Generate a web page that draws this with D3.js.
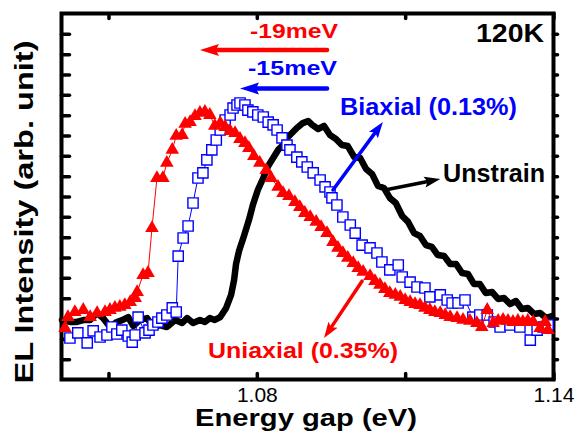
<!DOCTYPE html>
<html><head><meta charset="utf-8">
<script src="https://cdn.jsdelivr.net/npm/d3@7"></script>
<style>html,body{margin:0;padding:0;background:#fff}</style>
</head><body>
<script>
// ---- data ----
const xTickValues = [1.05, 1.08, 1.11, 1.14];
const xTickLabels = ["", "1.08", "", "1.14"];
const yTickValues = [1,2,3,4,5,6,7,8,9,10,11,12,13,14,15,16,17];

const unstrainE = [1.0406,1.0422,1.0436,1.0451,1.0463,1.0477,1.0489,1.0503,1.0517,1.0529,1.0540,1.0550,1.0564,1.0578,1.0590,1.0604,1.0618,1.0635,1.0649,1.0659,1.0671,1.0685,1.0695,1.0705,1.0715,1.0726,
1.0738,1.0748,1.0754,1.0758,1.0764,1.0774,1.0784,1.0792,1.0802,1.0813,1.0823,1.0833,1.0843,1.0853,1.0861,1.0871,1.0881,1.0893,1.0904,
1.0912,1.0924,1.0936,1.0948,1.0960,1.0972,1.0984,1.0997,1.1009,1.1021,1.1033,1.1045,1.1057,1.1069,1.1081,1.1094,1.1106,1.1118,1.1130,1.1142,1.1154,1.1166,1.1179,1.1191,1.1203,1.1215,1.1227,1.1239,1.1251,1.1263,1.1276,1.1288,1.1300,1.1312,1.1324,1.1336,1.1348,1.1361,1.1373,1.1385,1.1397];
const unstrainI = [2.93,2.83,2.83,2.93,2.93,3.27,3.02,2.58,2.83,2.93,3.07,2.63,2.93,3.02,2.58,2.68,2.58,2.93,2.78,3.02,2.78,2.93,2.83,3.02,2.93,3.07,
3.52,4.16,4.89,5.68,6.32,7.06,7.84,8.58,9.32,9.91,10.50,10.89,11.29,11.53,11.88,12.12,12.37,12.61,12.71,
12.52,12.32,12.47,12.02,11.83,11.53,11.48,10.94,10.89,10.35,10.11,9.52,9.42,8.93,8.68,8.04,7.75,7.20,7.06,6.61,6.52,6.12,6.07,5.68,5.68,5.24,5.19,4.70,4.70,4.25,4.30,3.96,4.01,3.71,3.86,3.47,3.52,3.22,3.27,3.02,3.12];

const uniaxialE = [1.0412,1.0418,1.0432,1.0449,1.0463,1.0477,1.0493,1.0503,1.0513,1.0523,
1.0533,1.0544,1.0554,1.0558,1.0570,1.0580,1.0588,1.0598,1.0610,1.0618,
1.0629,1.0637,1.0649,1.0655,1.0665,1.0675,1.0685,1.0695,1.0705,1.0715,
1.0726,1.0736,1.0746,1.0756,1.0766,1.0776,1.0784,1.0794,1.0806,1.0819,
1.0829,1.0843,1.0853,1.0865,1.0877,1.0887,1.0897,1.0908,1.0920,1.0930,
1.0942,1.0954,1.0964,1.0974,1.0984,1.0995,1.1005,1.1015,1.1029,1.1039,
1.1049,1.1059,1.1069,1.1080,1.1090,1.1100,1.1110,1.1120,1.1130,1.1140,
1.1150,1.1160,1.1171,1.1181,1.1191,1.1205,1.1217,1.1231,1.1245,1.1255,
1.1266,1.1278,1.1288,1.1298,1.1308,1.1318,1.1328,1.1338,1.1348,1.1359,
1.1373,1.1383,1.1389];
const uniaxialI = [2.53,3.07,3.32,3.42,3.07,3.27,3.32,3.42,3.52,3.57,
3.66,3.81,4.01,4.30,5.14,5.24,7.45,9.91,9.91,10.65,
11.29,11.98,12.02,12.57,12.66,12.96,13.11,13.16,13.01,12.47,
12.61,12.42,12.22,12.12,11.83,11.63,11.38,10.99,10.65,10.30,
9.91,9.47,9.17,9.02,8.73,8.48,8.19,7.99,7.75,7.50,
7.20,6.76,6.47,6.22,5.98,5.73,5.48,5.29,5.09,4.84,
4.65,4.45,4.25,4.16,4.06,3.91,3.81,3.71,3.66,3.52,
3.42,3.32,3.27,3.17,3.07,3.02,2.93,2.88,2.78,2.58,
3.42,2.78,2.88,2.93,2.88,2.83,2.88,2.83,2.88,2.83,
2.53,2.83,2.43];

const biaxialE = [1.0422,1.0438,1.0457,1.0469,1.0483,1.0497,1.0507,1.0517,1.0527,1.0540,
1.0548,1.0554,1.0560,1.0574,1.0582,1.0590,1.0600,1.0608,1.0618,1.0629,
1.0637,1.0641,1.0651,1.0661,1.0671,1.0681,1.0691,1.0699,1.0709,1.0718,
1.0726,1.0736,1.0746,1.0752,1.0760,1.0766,1.0776,1.0782,1.0792,1.0802,
1.0813,1.0823,1.0833,1.0841,1.0851,1.0861,1.0867,1.0881,1.0891,1.0902,
1.0914,1.0928,1.0938,1.0948,1.0952,1.0962,1.0974,1.0989,1.0999,1.1013,
1.1029,1.1043,1.1053,1.1069,1.1086,1.1094,1.1110,1.1124,1.1140,1.1150,
1.1171,1.1185,1.1195,1.1207,1.1221,1.1237,1.1251,1.1266,1.1280,1.1292,
1.1312,1.1332,1.1353,1.1367,1.1379,1.1389];
const biaxialI = [2.04,2.29,1.80,2.39,2.09,2.19,2.58,2.24,2.43,2.14,
1.84,2.19,3.07,2.29,2.43,2.68,2.83,3.02,3.17,3.52,
3.32,6.07,6.96,7.55,8.68,9.91,10.16,10.80,11.29,11.78,
12.27,12.76,13.01,13.35,13.50,13.60,13.50,13.25,13.16,13.01,
12.91,12.66,12.52,12.27,11.88,11.53,11.29,10.94,10.70,10.45,
10.16,9.81,9.47,9.22,8.93,8.58,7.99,7.60,7.20,6.61,
6.47,6.22,5.78,5.39,5.63,5.04,4.79,4.55,4.50,4.06,
4.16,3.91,3.76,3.76,3.91,3.07,3.17,3.17,2.83,2.58,
2.68,2.58,1.94,2.43,2.58,2.68];

// annotation arrows (data coordinates): [x1,y1,x2(tip),y2(tip)]
const arrowRed   = [1.0942, 16.20, 1.0685, 16.20];
const arrowBlue  = [1.0942, 14.31, 1.0766, 14.31];
const arrowBiax  = [1.0954, 9.32, 1.1055, 12.66];
const arrowUnstr = [1.1059, 9.32, 1.1171, 9.86];
const arrowUniax = [1.1013, 4.84, 1.0936, 2.04];

// ---- drawing ----
const W = 576, H = 441;
const FONT = "Arial, 'Liberation Sans', Helvetica, sans-serif";
const svg = d3.select("body").append("svg").attr("width", W).attr("height", H)
  .style("font-family", FONT);

const x = d3.scaleLinear().domain([1.0405, 1.14]).range([61.5, 553.5]);
const y = d3.scaleLinear().domain([0, 18]).range([379.5, 13.5]);

function styleAxis(g) {
  g.select(".domain").remove();
  g.selectAll(".tick line").attr("stroke", "#000").attr("stroke-width", 3.5).attr("stroke-linecap", "round");
  g.selectAll(".tick text").attr("font-size", 21).attr("font-family", FONT).attr("fill", "#000");
}

svg.append("g").attr("transform", "translate(0,379.5)")
  .call(d3.axisBottom(x).tickValues(xTickValues).tickSize(-6).tickPadding(8)
    .tickFormat((d, i) => xTickLabels[i])).call(styleAxis);
svg.append("g").attr("transform", "translate(0,13.5)")
  .call(d3.axisTop(x).tickValues(xTickValues).tickSize(-5).tickFormat("")).call(styleAxis);
svg.append("g").attr("transform", "translate(61.5,0)")
  .call(d3.axisLeft(y).tickValues(yTickValues).tickSize(-8).tickFormat("")).call(styleAxis);
svg.append("g").attr("transform", "translate(553.5,0)")
  .call(d3.axisRight(y).tickValues(yTickValues).tickSize(4).tickFormat("")).call(styleAxis);

svg.append("rect").attr("x", x.range()[0]).attr("y", y.range()[1])
  .attr("width", x.range()[1] - x.range()[0]).attr("height", y.range()[0] - y.range()[1])
  .attr("fill", "none").attr("stroke", "#000").attr("stroke-width", 4);

const line = d3.line().x(d => x(d[0])).y(d => y(d[1]));

// Unstrain
const uns = unstrainE.map((e, i) => [e, unstrainI[i]]);
svg.append("path").attr("d", line(uns)).attr("fill", "none").attr("stroke", "#000")
  .attr("stroke-width", 6.5).attr("stroke-linejoin", "round").attr("stroke-linecap", "round");

// Biaxial
const bi = biaxialE.map((e, i) => [e, biaxialI[i]]);
svg.append("path").attr("d", line(bi)).attr("fill", "none").attr("stroke", "#0000ff").attr("stroke-width", 1);
svg.append("g").selectAll("path").data(bi).join("path")
  .attr("d", d3.symbol(d3.symbolSquare, 105))
  .attr("transform", d => `translate(${x(d[0])},${y(d[1])})`)
  .attr("fill", "#fff").attr("stroke", "#0000ff").attr("stroke-width", 1.4);

// Uniaxial
const uni = uniaxialE.map((e, i) => [e, uniaxialI[i]]);
svg.append("path").attr("d", line(uni)).attr("fill", "none").attr("stroke", "#ff0000").attr("stroke-width", 1);
svg.append("g").selectAll("path").data(uni).join("path")
  .attr("d", d3.symbol(d3.symbolTriangle, 80))
  .attr("transform", d => `translate(${x(d[0])},${y(d[1])})`)
  .attr("fill", "#ff0000");

// arrows
function arrow(a, color, w, headLen, headW) {
  const x1 = x(a[0]), y1 = y(a[1]), x2 = x(a[2]), y2 = y(a[3]);
  const dx = x2 - x1, dy = y2 - y1, L = Math.hypot(dx, dy);
  const ux = dx / L, uy = dy / L;
  const bx = x2 - ux * headLen, by = y2 - uy * headLen;
  svg.append("line").attr("x1", x1).attr("y1", y1).attr("x2", bx + ux * 2).attr("y2", by + uy * 2)
    .attr("stroke", color).attr("stroke-width", w).attr("stroke-linecap", "round");
  svg.append("polygon").attr("points",
    [[x2, y2], [bx - uy * headW, by + ux * headW], [bx + ux * 3, by + uy * 3], [bx + uy * headW, by - ux * headW]].map(p => p.join(",")).join(" "))
    .attr("fill", color);
}
arrow(arrowRed, "#ff0000", 4.5, 19, 6);
arrow(arrowBlue, "#0000ff", 4.5, 19, 6);
arrow(arrowBiax, "#0000ff", 3.5, 16, 5.5);
arrow(arrowUnstr, "#000", 3.5, 16, 5.5);
arrow(arrowUniax, "#ff0000", 3.5, 16, 5.5);

// texts
function txt(s, px, py, size, color, len, anchor, weight) {
  const t = svg.append("text").attr("x", px).attr("y", py).attr("font-size", size)
    .attr("font-weight", weight || "bold").attr("fill", color).attr("text-anchor", anchor || "start").text(s);
  if (len) t.attr("textLength", len).attr("lengthAdjust", "spacingAndGlyphs");
  return t;
}
txt("-19meV", 250, 38, 21, "#ff0000", 88);
txt("-15meV", 248, 75, 21, "#0000ff", 89);
txt("120K", 476, 42, 26, "#000", 68);
txt("Biaxial (0.13%)", 340, 115, 24, "#0000ff", 177);
txt("Unstrain", 443, 182, 25, "#000", 102);
txt("Uniaxial (0.35%)", 208, 358, 22, "#ff0000", 190);
txt("Energy gap (eV)", 195, 426, 23, "#000", 222);
svg.append("text").attr("transform", "translate(33,212) rotate(-90)")
  .attr("text-anchor", "middle").attr("font-size", 25).attr("font-weight", "bold")
  .attr("textLength", 343).attr("lengthAdjust", "spacingAndGlyphs")
  .text("EL Intensity (arb. unit)");
</script>
</body></html>
